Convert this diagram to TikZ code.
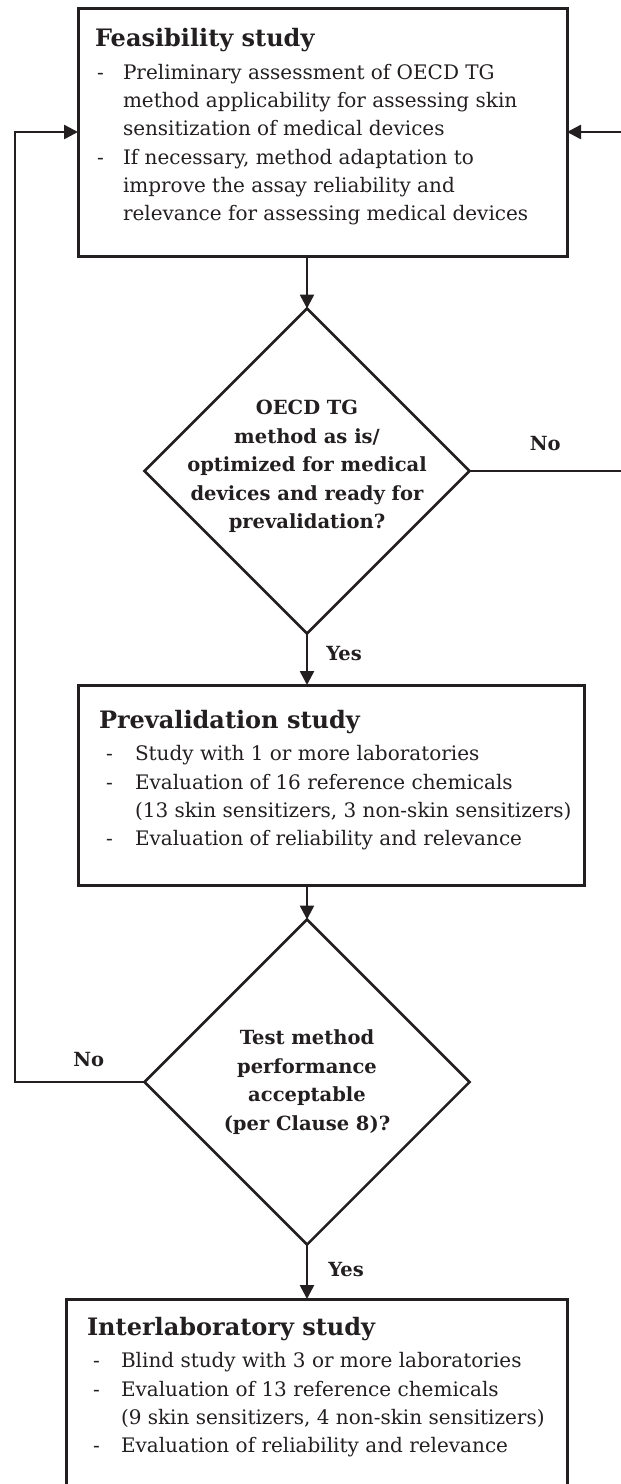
\documentclass[tikz,border=0pt]{standalone}
\usepackage{fontspec}
\setmainfont{DejaVu Serif}
\usetikzlibrary{positioning,shapes.geometric,arrows.meta}
\definecolor{ink}{RGB}{35,31,32}
\newlength{\dashpos}
\newlength{\txtpos}
\newcommand{\titlefont}{\fontsize{24}{28}\selectfont\bfseries}
\newcommand{\bodyfont}{\fontsize{20}{28.3}\selectfont}
\newcommand{\questfont}{\fontsize{19.5}{28.6}\selectfont\bfseries}
% box text: width, height, top gap, left margin, content
\newcommand{\stagetext}[5]{\begin{minipage}[t][#2][t]{#1}\vspace*{#3}\raggedright\leftskip=#4\relax #5\end{minipage}}
\newcommand{\stagetitle}[1]{{\titlefont\rule{0pt}{22pt}#1\par}\vspace{4.5pt}\bodyfont}
\newcommand{\dashitem}[1]{\par\hangindent=\txtpos\hangafter=1\noindent\makebox[\txtpos][l]{\hspace*{\dashpos}-}#1}

\begin{document}
\begin{tikzpicture}[x=1pt, y=-1pt,
    stage/.style={rectangle, draw=ink, line width=3pt, inner sep=0pt, outer sep=0pt, anchor=north west, text=ink},
    decision/.style={diamond, aspect=1, draw=ink, line width=2.5pt, minimum width=325pt, minimum height=325pt, inner sep=0pt, outer sep=0pt},
    question/.style={align=center, inner sep=0pt, text=ink, font=\questfont},
    answer/.style={inner sep=0pt, text=ink, font=\questfont},
    flow/.style={draw=ink, line width=2.5pt, -{Triangle[length=14pt,width=14pt]}}]
    \useasboundingbox (0,0) rectangle (621,1484);
    \clip (0,0) rectangle (621,1484);

        \node at (78,8) [stage] (feas) {\stagetext{489pt}{248pt}{16.5pt}{17pt}{%
            \setlength{\dashpos}{2pt}\setlength{\txtpos}{28pt}%
            \stagetitle{Feasibility study}%
            \dashitem{Preliminary assessment of OECD TG\newline method applicability for assessing skin\newline sensitization of medical devices}%
            \dashitem{If necessary, method adaptation to\newline improve the assay reliability and\newline relevance for assessing medical devices}}};

        \node at (307,471) [decision] (q1) {};
        \node at (q1) [question, yshift=4.5pt] (q1txt) {OECD TG\\method as is/\\optimized for medical\\devices and ready for\\prevalidation?};

        \node at (78,685) [stage] (preval) {\stagetext{506pt}{200pt}{21pt}{21pt}{%
            \setlength{\dashpos}{7pt}\setlength{\txtpos}{36pt}%
            \stagetitle{Prevalidation study}%
            \dashitem{Study with 1 or more laboratories}%
            \dashitem{Evaluation of 16 reference chemicals\newline (13 skin sensitizers, 3 non-skin sensitizers)}%
            \dashitem{Evaluation of reliability and relevance}}};

        \node at (307,1082) [decision] (q2) {};
        \node at (q2) [question] (q2txt) {Test method\\performance\\acceptable\\(per Clause 8)?};

        \node at (66,1299) [stage] (inter) {\stagetext{501pt}{240pt}{14pt}{21pt}{%
            \setlength{\dashpos}{6pt}\setlength{\txtpos}{34pt}%
            \stagetitle{Interlaboratory study}%
            \dashitem{Blind study with 3 or more laboratories}%
            \dashitem{Evaluation of 13 reference chemicals\newline (9 skin sensitizers, 4 non-skin sensitizers)}%
            \dashitem{Evaluation of reliability and relevance}}};

        % return lines run past the edges
        \coordinate (eastrail) at (624,0);
        \coordinate (westrail) at (15,0);

        \draw [flow] (feas.south -| q1) -- (q1.north);
        \draw [flow] (q1.south) -- node[answer, right=18pt, pos=0.39] (yes1) {Yes} (preval.north -| q1);
        \draw [flow] (preval.south -| q2) -- (q2.north);
        \draw [flow] (q2.south) -- node[answer, right=20pt, pos=0.45] (yes2) {Yes} (inter.north -| q2);
        \draw [flow] (q1.east) -- node[answer, above=19pt, pos=0.49] (no1) {No} (q1.east -| eastrail) |- (feas.east);
        \draw [flow] (q2.west) -- node[answer, above=14pt, pos=0.43] (no2) {No} (q2.west -| westrail) |- (feas.west);
\end{tikzpicture}
\end{document}
